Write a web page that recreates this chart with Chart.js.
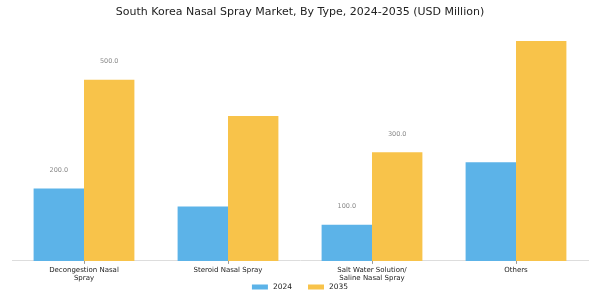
<!DOCTYPE html>
<html>
<head>
<meta charset="utf-8">
<script src="https://cdn.jsdelivr.net/npm/chart.js@4"></script>
<style>
  html, body { margin: 0; padding: 0; background: #fff; }
  #wrap { width: 600px; height: 300px; }
</style>
</head>
<body>
<div id="wrap"><canvas id="marketChart" width="600" height="300"></canvas></div>
<script>
// Data
const categories = [
    ['Decongestion Nasal', 'Spray'],
    'Steroid Nasal Spray',
    ['Salt Water Solution/', 'Saline Nasal Spray'],
    'Others'
];
const values2024 = [200, 150, 100, 272];
const values2035 = [500, 400, 300, 607];
// which bars carry a value label in the picture
const labeled2024 = [true, false, true, false];
const labeled2035 = [true, false, true, false];

const font = 'DejaVu Sans';

// Draw the value labels above the chosen bars
const valueLabels = {
    id: 'valueLabels',
    afterDatasetsDraw(chart) {
        const ctx = chart.ctx;
        const flags = [labeled2024, labeled2035];
        ctx.save();
        ctx.font = '6.5px "' + font + '"';
        ctx.fillStyle = '#8a8a8a';
        ctx.textAlign = 'center';
        ctx.textBaseline = 'middle';
        chart.data.datasets.forEach((ds, i) => {
            chart.getDatasetMeta(i).data.forEach((bar, j) => {
                if (!flags[i][j]) return;
                ctx.fillText(ds.data[j].toFixed(1), bar.x, bar.y - 18);
            });
        });
        ctx.restore();
    }
};

// Small legend at the bottom, drawn by hand so the item gap can be wide
// while the row stays tight under the axis labels
const bottomLegend = {
    id: 'bottomLegend',
    afterDraw(chart) {
        const ctx = chart.ctx;
        const boxW = 16, boxH = 5, textGap = 5, itemGap = 16;
        const y = 287;
        ctx.save();
        ctx.font = '7.5px "' + font + '"';
        ctx.textBaseline = 'middle';
        const items = chart.data.datasets.map(ds => ({
            text: ds.label,
            color: ds.backgroundColor,
            w: boxW + textGap + ctx.measureText(ds.label).width
        }));
        const total = items.reduce((s, it) => s + it.w, 0) + itemGap * (items.length - 1);
        let x = chart.width / 2 - total / 2;
        items.forEach(it => {
            ctx.fillStyle = it.color;
            ctx.fillRect(x, y - boxH / 2, boxW, boxH);
            ctx.fillStyle = '#222';
            ctx.fillText(it.text, x + boxW + textGap, y);
            x += it.w + itemGap;
        });
        ctx.restore();
    }
};

const ctx = document.getElementById('marketChart').getContext('2d');
const marketChart = new Chart(ctx, {
    type: 'bar',
    data: {
        labels: categories,
        datasets: [{
            label: '2024',
            data: values2024,
            backgroundColor: '#5cb3e8'
        }, {
            label: '2035',
            data: values2035,
            backgroundColor: '#f8c34a'
        }]
    },
    options: {
        responsive: false,
        animation: false,
        layout: { padding: { left: 12, right: 12, top: 0, bottom: 16 } },
        datasets: {
            bar: { categoryPercentage: 0.7, barPercentage: 1.0 }
        },
        plugins: {
            title: {
                display: true,
                text: 'South Korea Nasal Spray Market, By Type, 2024-2035 (USD Million)',
                color: '#222',
                font: { family: font, size: 11, weight: 'normal' },
                padding: { top: 6, bottom: 16 }
            },
            legend: { display: false },
            tooltip: { enabled: false }
        },
        scales: {
            x: {
                grid: {
                    offset: false,
                    drawOnChartArea: false,
                    drawTicks: true,
                    tickLength: 3,
                    color: '#999'
                },
                border: { color: '#dddddd' },
                ticks: {
                    color: '#222',
                    padding: 2,
                    maxRotation: 0,
                    font: { family: font, size: 7, lineHeight: 1.15 }
                }
            },
            y: {
                display: false,
                beginAtZero: true,
                max: 623
            }
        }
    },
    plugins: [valueLabels, bottomLegend]
});
</script>
</body>
</html>
